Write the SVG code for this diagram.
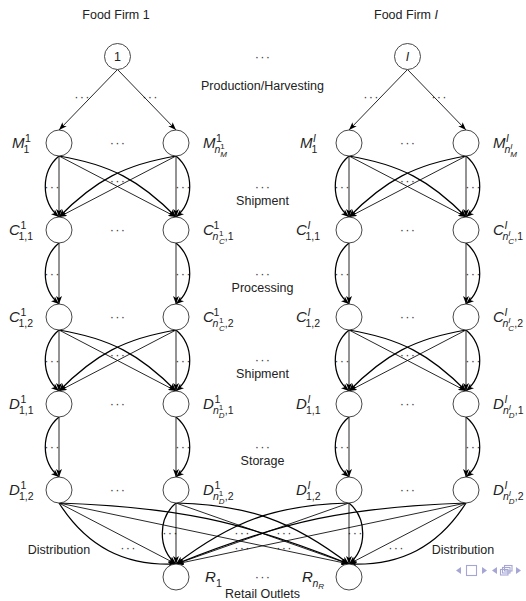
<svg xmlns="http://www.w3.org/2000/svg" width="526" height="601" viewBox="0 0 526 601">
  <style>
    .nd { fill: #fff; stroke: #333; stroke-width: 0.9; }
    .e { fill: none; stroke: #000; stroke-width: 0.85; marker-end: url(#ah); }
    .b { fill: none; stroke: #000; stroke-width: 1.25; marker-end: url(#ah); }
    .t { font-family: "Liberation Sans", Arial, sans-serif; font-size: 12.5px; fill: #222; }
    .c { text-anchor: middle; }
    .dt { font-family: "Liberation Sans", Arial, sans-serif; font-size: 13px; fill: #444; text-anchor: middle; letter-spacing: 1.2px; }
    .m { font-family: "Liberation Sans", Arial, sans-serif; font-size: 15px; font-style: italic; fill: #222; }
    .s { font-family: "Liberation Sans", Arial, sans-serif; font-size: 10.5px; fill: #222; }
    .ss { font-family: "Liberation Sans", Arial, sans-serif; font-size: 8px; fill: #222; }
    .i { font-style: italic; }
    .nav { fill: #a6a6d6; stroke: none; }
    .navo { fill: none; stroke: #a6a6d6; stroke-width: 1.1; }
  </style>
  <defs>
    <marker id="ah" viewBox="0 0 8 6" refX="8" refY="3" markerWidth="8" markerHeight="6" orient="auto" markerUnits="userSpaceOnUse">
      <path d="M0,0 L8,3 L0,6 L2,3 z" fill="#000"/>
    </marker>
  </defs>
  <rect width="526" height="601" fill="#fff"/>

  <!-- firm headings and stage captions -->
  <g id="captions">
    <text class="t c" x="116" y="19">Food Firm 1</text>
    <text class="t c" x="406" y="19">Food Firm <tspan class="i">I</tspan></text>
    <text class="t c" x="262.5" y="89.5">Production/Harvesting</text>
    <text class="t c" x="262.5" y="205">Shipment</text>
    <text class="t c" x="262.5" y="292">Processing</text>
    <text class="t c" x="262.5" y="378">Shipment</text>
    <text class="t c" x="262.5" y="465">Storage</text>
    <text class="t c" x="59" y="554">Distribution</text>
    <text class="t c" x="463" y="554">Distribution</text>
    <text class="t c" x="262.5" y="598">Retail Outlets</text>
  </g>

  <!-- ellipses -->
  <g id="ellipses">
    <text class="dt" x="263" y="60.5">···</text>
    <text class="dt" x="263" y="190.5">···</text>
    <text class="dt" x="263" y="277.5">···</text>
    <text class="dt" x="263" y="364">···</text>
    <text class="dt" x="263" y="451">···</text>
    <text class="dt" x="263" y="581">···</text>
    <text class="dt" x="82.5" y="101">···</text>
    <text class="dt" x="150.5" y="101">···</text>
    <text class="dt" x="371.5" y="101">···</text>
    <text class="dt" x="439.5" y="101">···</text>
    <!-- between nodes of a layer -->
    <text class="dt" x="118" y="147">···</text>
    <text class="dt" x="118" y="234">···</text>
    <text class="dt" x="118" y="321">···</text>
    <text class="dt" x="118" y="408">···</text>
    <text class="dt" x="118" y="494">···</text>
    <text class="dt" x="408" y="147">···</text>
    <text class="dt" x="408" y="234">···</text>
    <text class="dt" x="408" y="321">···</text>
    <text class="dt" x="408" y="408">···</text>
    <text class="dt" x="408" y="494">···</text>
    <!-- between parallel links -->
    <text class="dt" x="52.5" y="190.5">···</text>
    <text class="dt" x="183.5" y="190.5">···</text>
    <text class="dt" x="118" y="185">···</text>
    <text class="dt" x="342.5" y="190.5">···</text>
    <text class="dt" x="473.5" y="190.5">···</text>
    <text class="dt" x="408" y="185">···</text>
    <text class="dt" x="52.5" y="277.5">···</text>
    <text class="dt" x="183.5" y="277.5">···</text>
    <text class="dt" x="342.5" y="277.5">···</text>
    <text class="dt" x="473.5" y="277.5">···</text>
    <text class="dt" x="52.5" y="364.5">···</text>
    <text class="dt" x="183.5" y="364.5">···</text>
    <text class="dt" x="118" y="359">···</text>
    <text class="dt" x="342.5" y="364.5">···</text>
    <text class="dt" x="473.5" y="364.5">···</text>
    <text class="dt" x="408" y="359">···</text>
    <text class="dt" x="52.5" y="451">···</text>
    <text class="dt" x="183.5" y="451">···</text>
    <text class="dt" x="342.5" y="451">···</text>
    <text class="dt" x="473.5" y="451">···</text>
    <!-- distribution -->
    <text class="dt" x="170.5" y="537">···</text>
    <text class="dt" x="242.5" y="537">···</text>
    <text class="dt" x="284.5" y="537">···</text>
    <text class="dt" x="355.5" y="537">···</text>
    <text class="dt" x="128.5" y="552">···</text>
    <text class="dt" x="242.5" y="552">···</text>
    <text class="dt" x="284.5" y="552">···</text>
    <text class="dt" x="396.5" y="552">···</text>
  </g>

  <!-- links -->
  <g id="connectors">
    <!-- production / harvesting -->
    <path class="e" d="M117.5,69.5 L59,130"/>
    <path class="e" d="M117.5,69.5 L176,130"/>
    <path class="e" d="M407.5,69.5 L349,130"/>
    <path class="e" d="M407.5,69.5 L466,130"/>

    <!-- shipment M to C, firm 1 -->
    <path class="e" d="M59,156 V217"/>
    <path class="e" d="M176,156 V217"/>
    <path class="e" d="M59,156 L176,217"/>
    <path class="e" d="M176,156 L59,217"/>
    <path class="b" d="M59,156 C40.7,171.4 40.7,201.6 59,217"/>
    <path class="b" d="M176,156 C194.3,171.4 194.3,201.6 176,217"/>
    <path class="b" d="M59,156 C109.95,164.55 139.82,180.13 176,217"/>
    <path class="b" d="M176,156 C125.05,164.55 95.18,180.13 59,217"/>
    <!-- shipment M to C, firm I -->
    <path class="e" d="M349,156 V217"/>
    <path class="e" d="M466,156 V217"/>
    <path class="e" d="M349,156 L466,217"/>
    <path class="e" d="M466,156 L349,217"/>
    <path class="b" d="M349,156 C330.7,171.4 330.7,201.6 349,217"/>
    <path class="b" d="M466,156 C484.3,171.4 484.3,201.6 466,217"/>
    <path class="b" d="M349,156 C399.95,164.55 429.82,180.13 466,217"/>
    <path class="b" d="M466,156 C415.05,164.55 385.18,180.13 349,217"/>

    <!-- processing -->
    <path class="e" d="M59,243 V304"/>
    <path class="e" d="M176,243 V304"/>
    <path class="b" d="M59,243 C40.7,258.4 40.7,288.6 59,304"/>
    <path class="b" d="M176,243 C194.3,258.4 194.3,288.6 176,304"/>
    <path class="e" d="M349,243 V304"/>
    <path class="e" d="M466,243 V304"/>
    <path class="b" d="M349,243 C330.7,258.4 330.7,288.6 349,304"/>
    <path class="b" d="M466,243 C484.3,258.4 484.3,288.6 466,304"/>

    <!-- shipment C to D, firm 1 -->
    <path class="e" d="M59,330 V391"/>
    <path class="e" d="M176,330 V391"/>
    <path class="e" d="M59,330 L176,391"/>
    <path class="e" d="M176,330 L59,391"/>
    <path class="b" d="M59,330 C40.7,345.4 40.7,375.6 59,391"/>
    <path class="b" d="M176,330 C194.3,345.4 194.3,375.6 176,391"/>
    <path class="b" d="M59,330 C109.95,338.55 139.82,354.13 176,391"/>
    <path class="b" d="M176,330 C125.05,338.55 95.18,354.13 59,391"/>
    <!-- shipment C to D, firm I -->
    <path class="e" d="M349,330 V391"/>
    <path class="e" d="M466,330 V391"/>
    <path class="e" d="M349,330 L466,391"/>
    <path class="e" d="M466,330 L349,391"/>
    <path class="b" d="M349,330 C330.7,345.4 330.7,375.6 349,391"/>
    <path class="b" d="M466,330 C484.3,345.4 484.3,375.6 466,391"/>
    <path class="b" d="M349,330 C399.95,338.55 429.82,354.13 466,391"/>
    <path class="b" d="M466,330 C415.05,338.55 385.18,354.13 349,391"/>

    <!-- storage -->
    <path class="e" d="M59,417 V477"/>
    <path class="e" d="M176,417 V477"/>
    <path class="b" d="M59,417 C40.7,432.4 40.7,461.6 59,477"/>
    <path class="b" d="M176,417 C194.3,432.4 194.3,461.6 176,477"/>
    <path class="e" d="M349,417 V477"/>
    <path class="e" d="M466,417 V477"/>
    <path class="b" d="M349,417 C330.7,432.4 330.7,461.6 349,477"/>
    <path class="b" d="M466,417 C484.3,432.4 484.3,461.6 466,477"/>

    <!-- distribution -->
    <path class="e" d="M59,503 L176,564"/>
    <path class="e" d="M59,503 L349,564"/>
    <path class="e" d="M176,503 V564"/>
    <path class="e" d="M176,503 L349,564"/>
    <path class="e" d="M349,503 L176,564"/>
    <path class="e" d="M349,503 V564"/>
    <path class="e" d="M466,503 L176,564"/>
    <path class="e" d="M466,503 L349,564"/>
    <path class="b" d="M59,503 C86.73,546.59 124.39,566.23 176,564"/>
    <path class="b" d="M59,503 C174.94,506.8 241.36,520.78 349,564"/>
    <path class="b" d="M176,503 C157.7,518.4 157.7,548.6 176,564"/>
    <path class="b" d="M176,503 C247.8,504.78 291.96,520.35 349,564"/>
    <path class="b" d="M349,503 C277.2,504.78 233.04,520.35 176,564"/>
    <path class="b" d="M349,503 C367.3,518.4 367.3,548.6 349,564"/>
    <path class="b" d="M466,503 C350.06,506.8 283.64,520.78 176,564"/>
    <path class="b" d="M466,503 C438.27,546.59 400.61,566.23 349,564"/>
  </g>

  <!-- firm 1 nodes -->
  <g id="firm1"><circle class="nd" cx="117.5" cy="56.5" r="13"/><text class="t c" x="117.5" y="61">1</text></g>
  <g id="M1-1"><circle class="nd" cx="59" cy="143" r="13"/>
    <g transform="translate(12,148)"><text class="m">M</text><text class="s" x="13" y="-6">1</text><text class="s" x="11.5" y="4.5">1</text></g></g>
  <g id="M1-n"><circle class="nd" cx="176" cy="143" r="13"/>
    <g transform="translate(203,148)"><text class="m">M</text><text class="s" x="13" y="-6">1</text><text class="s i" x="11.5" y="4.5">n</text><text class="ss" x="17.3" y="0.5">1</text><text class="ss i" x="17.3" y="8.5">M</text></g></g>
  <g id="C1-11"><circle class="nd" cx="59" cy="230" r="13"/>
    <g transform="translate(9,235)"><text class="m">C</text><text class="s" x="11.5" y="-6">1</text><text class="s" x="9.5" y="4.5">1,1</text></g></g>
  <g id="C1-n1"><circle class="nd" cx="176" cy="230" r="13"/>
    <g transform="translate(203,235)"><text class="m">C</text><text class="s" x="10.5" y="-6.5">1</text><text class="s i" x="9.5" y="4.5">n</text><text class="ss" x="16" y="1">1</text><text class="ss i" x="16" y="8.5">C</text><text class="s" x="21.8" y="4.5">,1</text></g></g>
  <g id="C1-12"><circle class="nd" cx="59" cy="317" r="13"/>
    <g transform="translate(9,322)"><text class="m">C</text><text class="s" x="11.5" y="-6">1</text><text class="s" x="9.5" y="4.5">1,2</text></g></g>
  <g id="C1-n2"><circle class="nd" cx="176" cy="317" r="13"/>
    <g transform="translate(203,322)"><text class="m">C</text><text class="s" x="10.5" y="-6.5">1</text><text class="s i" x="9.5" y="4.5">n</text><text class="ss" x="16" y="1">1</text><text class="ss i" x="16" y="8.5">C</text><text class="s" x="21.8" y="4.5">,2</text></g></g>
  <g id="D1-11"><circle class="nd" cx="59" cy="404" r="13"/>
    <g transform="translate(9,409)"><text class="m">D</text><text class="s" x="11.5" y="-6">1</text><text class="s" x="10" y="4.5">1,1</text></g></g>
  <g id="D1-n1"><circle class="nd" cx="176" cy="404" r="13"/>
    <g transform="translate(203,409)"><text class="m">D</text><text class="s" x="11.5" y="-6">1</text><text class="s i" x="10" y="4.5">n</text><text class="ss" x="15.8" y="0.5">1</text><text class="ss i" x="15.8" y="8.5">D</text><text class="s" x="21.8" y="4.5">,1</text></g></g>
  <g id="D1-12"><circle class="nd" cx="59" cy="490" r="13"/>
    <g transform="translate(9,495)"><text class="m">D</text><text class="s" x="11.5" y="-6">1</text><text class="s" x="10" y="4.5">1,2</text></g></g>
  <g id="D1-n2"><circle class="nd" cx="176" cy="490" r="13"/>
    <g transform="translate(203,495)"><text class="m">D</text><text class="s" x="11.5" y="-6">1</text><text class="s i" x="10" y="4.5">n</text><text class="ss" x="15.8" y="0.5">1</text><text class="ss i" x="15.8" y="8.5">D</text><text class="s" x="21.8" y="4.5">,2</text></g></g>

  <!-- firm I nodes -->
  <g id="firmI"><circle class="nd" cx="407.5" cy="56.5" r="13"/><text class="t c i" x="407.5" y="61">I</text></g>
  <g id="MI-1"><circle class="nd" cx="349" cy="143" r="13"/>
    <g transform="translate(300,148)"><text class="m">M</text><text class="s i" x="13" y="-6">I</text><text class="s" x="11.5" y="4.5">1</text></g></g>
  <g id="MI-n"><circle class="nd" cx="466" cy="143" r="13"/>
    <g transform="translate(493,148)"><text class="m">M</text><text class="s i" x="13" y="-6">I</text><text class="s i" x="11.5" y="4.5">n</text><text class="ss i" x="17.3" y="0.5">I</text><text class="ss i" x="17.3" y="8.5">M</text></g></g>
  <g id="CI-11"><circle class="nd" cx="349" cy="230" r="13"/>
    <g transform="translate(296,235)"><text class="m">C</text><text class="s i" x="11.5" y="-6">I</text><text class="s" x="9.5" y="4.5">1,1</text></g></g>
  <g id="CI-n1"><circle class="nd" cx="466" cy="230" r="13"/>
    <g transform="translate(493,235)"><text class="m">C</text><text class="s i" x="11.5" y="-6">I</text><text class="s i" x="9.5" y="4.5">n</text><text class="ss i" x="15.3" y="0.5">I</text><text class="ss i" x="15.3" y="8.5">C</text><text class="s" x="21.3" y="4.5">,1</text></g></g>
  <g id="CI-12"><circle class="nd" cx="349" cy="317" r="13"/>
    <g transform="translate(296,322)"><text class="m">C</text><text class="s i" x="11.5" y="-6">I</text><text class="s" x="9.5" y="4.5">1,2</text></g></g>
  <g id="CI-n2"><circle class="nd" cx="466" cy="317" r="13"/>
    <g transform="translate(493,322)"><text class="m">C</text><text class="s i" x="11.5" y="-6">I</text><text class="s i" x="9.5" y="4.5">n</text><text class="ss i" x="15.3" y="0.5">I</text><text class="ss i" x="15.3" y="8.5">C</text><text class="s" x="21.3" y="4.5">,2</text></g></g>
  <g id="DI-11"><circle class="nd" cx="349" cy="404" r="13"/>
    <g transform="translate(296,409)"><text class="m">D</text><text class="s i" x="11.5" y="-6">I</text><text class="s" x="10" y="4.5">1,1</text></g></g>
  <g id="DI-n1"><circle class="nd" cx="466" cy="404" r="13"/>
    <g transform="translate(493,409)"><text class="m">D</text><text class="s i" x="11.5" y="-6">I</text><text class="s i" x="10" y="4.5">n</text><text class="ss i" x="15.8" y="0.5">I</text><text class="ss i" x="15.8" y="8.5">D</text><text class="s" x="21.8" y="4.5">,1</text></g></g>
  <g id="DI-12"><circle class="nd" cx="349" cy="490" r="13"/>
    <g transform="translate(296,495)"><text class="m">D</text><text class="s i" x="11.5" y="-6">I</text><text class="s" x="10" y="4.5">1,2</text></g></g>
  <g id="DI-n2"><circle class="nd" cx="466" cy="490" r="13"/>
    <g transform="translate(493,495)"><text class="m">D</text><text class="s i" x="11.5" y="-6">I</text><text class="s i" x="10" y="4.5">n</text><text class="ss i" x="15.8" y="0.5">I</text><text class="ss i" x="15.8" y="8.5">D</text><text class="s" x="21.8" y="4.5">,2</text></g></g>

  <!-- retail outlets -->
  <g id="R-1"><circle class="nd" cx="176" cy="577" r="13"/>
    <g transform="translate(205,582)"><text class="m">R</text><text class="s" x="11" y="4.5">1</text></g></g>
  <g id="R-n"><circle class="nd" cx="349" cy="577" r="13"/>
    <g transform="translate(302,582)"><text class="m">R</text><text class="s i" x="10.5" y="4.5">n</text><text class="ss i" x="16.3" y="7">R</text></g></g>

  <!-- navigation symbols -->
  <g id="navigation">
    <path class="nav" d="M461,567 L456,570.5 L461,574 z"/>
    <rect class="navo" x="466.5" y="565.5" width="10" height="10"/>
    <path class="nav" d="M482,567 L487,570.5 L482,574 z"/>
    <path class="nav" d="M497,567 L492,570.5 L497,574 z"/>
    <rect class="navo" x="500.5" y="569.5" width="7.5" height="5.5"/>
    <rect class="navo" x="502.5" y="567.5" width="7.5" height="5.5"/>
    <rect class="navo" x="504.5" y="565.5" width="7.5" height="5.5"/>
    <path class="nav" d="M516,567 L521,570.5 L516,574 z"/>
  </g>
</svg>
